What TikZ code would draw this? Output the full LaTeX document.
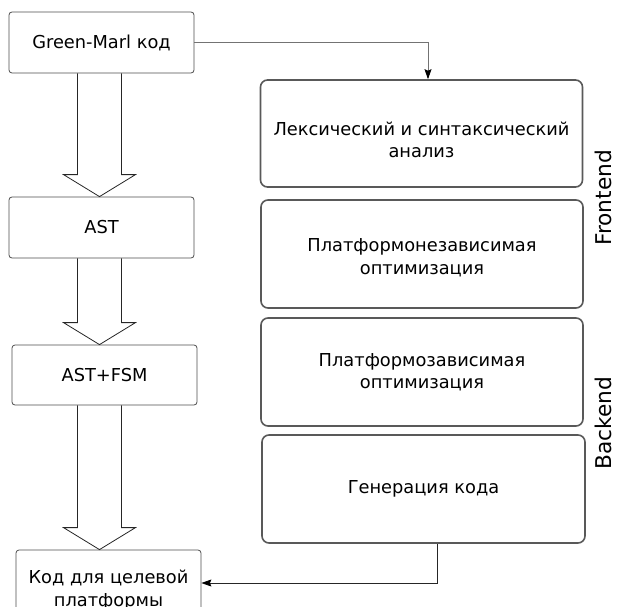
\documentclass[tikz,border=0pt]{standalone}
\usepackage{fontspec}
\setmainfont{DejaVu Sans}
\usetikzlibrary{arrows.meta,calc}

\tikzset{
  leftbox/.style={draw=black!70, rounded corners=3pt, line width=0.8pt,
    align=center, inner sep=0pt, minimum width=185pt, minimum height=61pt,
    font=\fontsize{17.8}{22.5}\selectfont},
  rightbox/.style={draw=black!65, rounded corners=7pt, line width=1.6pt,
    align=center, inner sep=0pt, minimum width=322pt, minimum height=107pt,
    font=\fontsize{17.8}{22.5}\selectfont},
  blockarrow/.style={draw=black!85, line width=0.8pt},
  thinline/.style={line width=0.8pt, -{Stealth[length=10pt,width=7pt,inset=1.5pt,black]}},
  sidelabel/.style={rotate=90, font=\fontsize{21.7}{24}\selectfont}
}

\newcommand{\fatarrow}[2]{%
  \draw[blockarrow] let \p1=(#1.south), \p2=(#2.north), \p3=(gm.south) in
    (\x3-24pt,\y1) -- (\x3-24pt,\y2+22pt) -- (\x3-38pt,\y2+22pt) -- (\x3-2pt,\y2)
    -- (\x3+34pt,\y2+22pt) -- (\x3+20pt,\y2+22pt) -- (\x3+20pt,\y1);}

\begin{document}
\begin{tikzpicture}[x=1pt,y=-1pt]
  \useasboundingbox (0,0) rectangle (618,607);
  \clip (0,0) rectangle (618,607);

  % left column
  \node[leftbox] (gm) at (101.5,42.5) {Green-Marl код};
  \node[leftbox] (ast) at (101.5,227.5) {AST};
  \node[leftbox, minimum height=60pt] (fsm) at (104.5,375) {AST+FSM};
  \node[leftbox, minimum height=80pt] (tgt) at (108.5,590) {Код для целевой\\платформы};

  % right column
  \node[rightbox] (lex) at (421.5,133.5) {\rule{0pt}{26pt}Лексический и синтаксический\\анализ};
  \node[rightbox, minimum height=108pt] (nez) at (422,254) {\rule{0pt}{20pt}Платформонезависимая\\оптимизация};
  \node[rightbox, minimum height=108pt] (zav) at (422,372) {Платформозависимая\\оптимизация};
  \node[rightbox, minimum height=108pt, minimum width=323pt] (gen) at (423.5,489) {Генерация кода};

  \node[sidelabel] (fe) at (603,198) {Frontend};
  \node[sidelabel] (be) at (603,423) {Backend};

  % big arrows
  \fatarrow{gm}{ast}
  \fatarrow{ast}{fsm}
  \fatarrow{fsm}{tgt}

  % thin connectors
  \draw[thinline, draw=black!55] (gm.east) -| ([xshift=6.5pt]lex.north);
  \draw[thinline, draw=black!85] ([xshift=13.5pt]gen.south) |- ([yshift=7pt]tgt.east);
\end{tikzpicture}
\end{document}
